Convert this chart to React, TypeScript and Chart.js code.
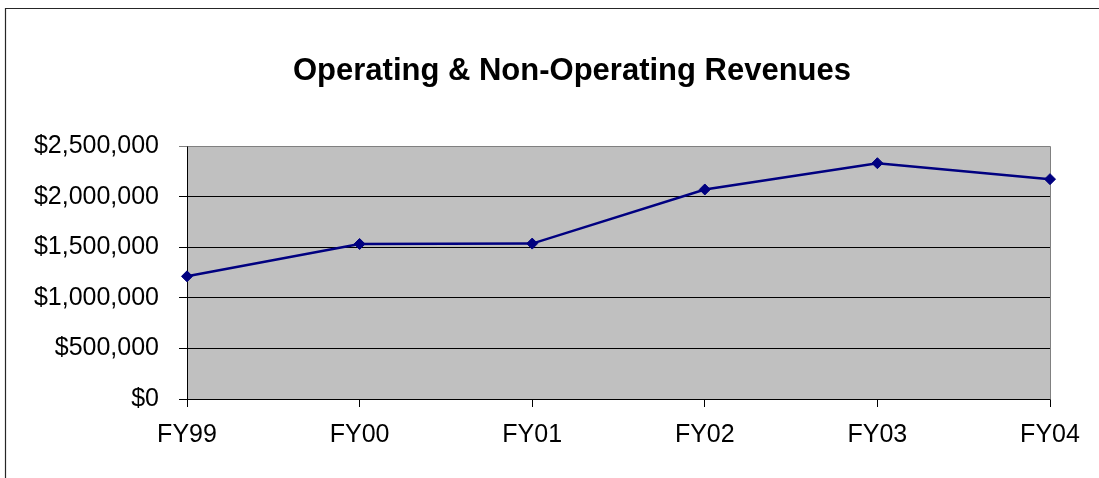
import React, { useEffect, useRef } from "react";
import { Chart, registerables } from "chart.js";

Chart.register(...registerables);

const categories: string[] = ["FY99", "FY00", "FY01", "FY02", "FY03", "FY04"];
const revenues: number[] = [1213000, 1533000, 1537000, 2072000, 2332000, 2174000];
const titleText = "Operating & Non-Operating Revenues";
const yMin = 0;
const yMax = 2500000;
const yStep = 500000;

const FONT = "'Liberation Sans', Arial, Helvetica, sans-serif";
const VISIBLE_WIDTH = 1099;

const framePlugin = {
  id: "framePlugin",
  beforeDraw(chart: any) {
    const { ctx, chartArea } = chart;
    ctx.save();
    ctx.fillStyle = "#ffffff";
    ctx.fillRect(0, 0, chart.width, chart.height);
    ctx.strokeStyle = "#262626";
    ctx.lineWidth = 1.2;
    ctx.beginPath();
    ctx.moveTo(5.5, chart.height);
    ctx.lineTo(5.5, 8.5);
    ctx.lineTo(VISIBLE_WIDTH, 8.5);
    ctx.stroke();
    ctx.fillStyle = "#C0C0C0";
    ctx.fillRect(chartArea.left, chartArea.top, chartArea.right - chartArea.left, chartArea.bottom - chartArea.top);
    ctx.restore();
  },
  beforeDatasetsDraw(chart: any) {
    const { ctx, chartArea } = chart;
    ctx.save();
    ctx.strokeStyle = "#808080";
    ctx.lineWidth = 1;
    ctx.beginPath();
    ctx.moveTo(Math.round(chartArea.left) + 0.5, Math.round(chartArea.top) + 0.5);
    ctx.lineTo(Math.round(chartArea.right) + 0.5, Math.round(chartArea.top) + 0.5);
    ctx.lineTo(Math.round(chartArea.right) + 0.5, Math.round(chartArea.bottom) + 0.5);
    ctx.stroke();
    ctx.restore();
  },
};

export default function App() {
  const ref = useRef<HTMLCanvasElement | null>(null);

  useEffect(() => {
    if (!ref.current) return;
    const chart = new Chart(ref.current, {
      type: "line",
      data: {
        labels: categories,
        datasets: [
          {
            label: "Revenues",
            data: revenues,
            borderColor: "#000080",
            backgroundColor: "#000080",
            borderWidth: 2.5,
            pointStyle: "rectRot",
            pointRadius: 5.5,
            pointBorderWidth: 1,
            pointBackgroundColor: "#000080",
            pointBorderColor: "#000080",
            tension: 0,
            fill: false,
          },
        ],
      },
      options: {
        responsive: false,
        animation: false,
        devicePixelRatio: 1,
        layout: { padding: { left: 0, right: 0, top: 0, bottom: 0 } },
        plugins: {
          legend: { display: false },
          tooltip: { enabled: false },
          title: {
            display: true,
            text: titleText,
            color: "#000000",
            font: { family: FONT, size: 31, weight: "bold", lineHeight: 1.2 },
            padding: { top: 53, bottom: 56 },
          },
        },
        scales: {
          x: {
            type: "category",
            offset: false,
            grid: {
              display: true,
              drawOnChartArea: false,
              drawTicks: true,
              tickLength: 8,
              color: "#000000",
              lineWidth: 1,
            },
            border: { display: true, color: "#000000", width: 1 },
            ticks: {
              color: "#000000",
              font: { family: FONT, size: 25 },
              padding: 13,
              maxRotation: 0,
              autoSkip: false,
            },
            afterFit: (scale: any) => {
              scale.height = 79;
            },
          },
          y: {
            type: "linear",
            position: "left",
            min: yMin,
            max: yMax,
            grid: {
              display: true,
              drawOnChartArea: true,
              drawTicks: true,
              tickLength: 8,
              color: (c: any) => (c.tick && c.tick.value === yMax ? "#808080" : "#000000"),
              lineWidth: 1,
            },
            border: { display: true, color: "#000000", width: 1 },
            ticks: {
              stepSize: yStep,
              color: "#000000",
              font: { family: FONT, size: 25 },
              padding: 20,
              callback: (v: any) => "$" + Number(v).toLocaleString("en-US"),
            },
            afterFit: (scale: any) => {
              scale.width = 187;
            },
          },
          yRight: {
            type: "linear",
            position: "right",
            display: true,
            grid: { display: false, drawTicks: false },
            border: { display: false },
            ticks: { display: false },
            afterFit: (scale: any) => {
              scale.width = 94;
            },
          },
        },
      },
      plugins: [framePlugin],
    });
    return () => chart.destroy();
  }, []);

  return (
    <div
      style={{
        position: "fixed",
        left: 0,
        top: 0,
        width: VISIBLE_WIDTH,
        height: 478,
        overflow: "hidden",
        background: "#fff",
      }}
    >
      <canvas ref={ref} width={1144} height={478} style={{ display: "block" }} />
    </div>
  );
}
